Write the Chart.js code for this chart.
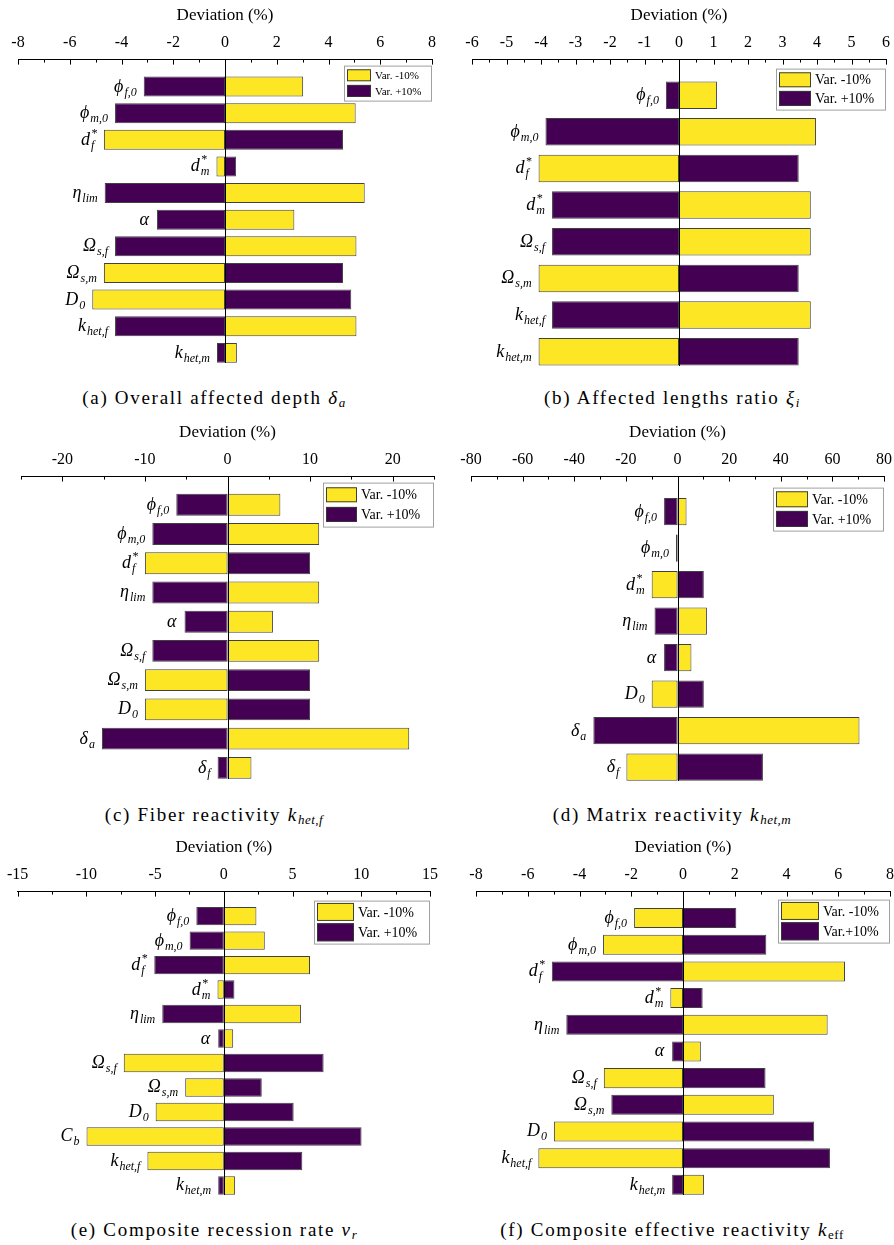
<!DOCTYPE html>
<html>
<head>
<meta charset="utf-8">
<script src="https://cdn.jsdelivr.net/npm/chart.js@4.4.0/dist/chart.umd.min.js"></script>
<style>
body { margin:0; width:894px; height:1245px; overflow:hidden; background:#fff; position:relative; font-family:"Liberation Serif", serif; }
canvas { position:absolute; }
.cap { position:absolute; text-align:center; font-size:19px; letter-spacing:1.7px; line-height:22px; color:#000; white-space:nowrap; }
.cap sub { font-size:13px; vertical-align:-3px; letter-spacing:0.5px; }
</style>
</head>
<body>
<canvas id="ca" width="447" height="365" style="left:0;top:0"></canvas>
<canvas id="cb" width="460" height="368" style="left:447px;top:0"></canvas>
<canvas id="cc" width="447" height="364" style="left:0;top:417px"></canvas>
<canvas id="cd" width="460" height="366" style="left:447px;top:417px"></canvas>
<canvas id="ce" width="447" height="365" style="left:0;top:832px"></canvas>
<canvas id="cf" width="460" height="365" style="left:447px;top:832px"></canvas>

<div class="cap" style="left:0;width:428px;top:387px">(a) Overall affected depth <i>δ<sub>a</sub></i></div>
<div class="cap" style="left:447px;width:450px;top:387px">(b) Affected lengths ratio <i>ξ<sub>i</sub></i></div>
<div class="cap" style="left:0;width:428px;top:804px">(c) Fiber reactivity <i>k<sub>het,f</sub></i></div>
<div class="cap" style="left:447px;width:450px;top:804px">(d) Matrix reactivity <i>k<sub>het,m</sub></i></div>
<div class="cap" style="left:0;width:428px;top:1219px">(e) Composite recession rate <i>v<sub>r</sub></i></div>
<div class="cap" style="left:447px;width:450px;top:1219px">(f) Composite effective reactivity <i>k</i><sub>eff</sub></div>

<script>
// parameter labels: base_sub^sup
var catsA = ['ϕ_f,0','ϕ_m,0','d_f^*','d_m^*','η_lim','α','Ω_s,f','Ω_s,m','D_0','k_het,f','k_het,m'];
var minusA = [3.02, 5.05, -4.68, -0.33, 5.40, 2.68, 5.08, -4.68, -5.13, 5.08, 0.46];
var plusA  = [-3.14, -4.25, 4.56, 0.43, -4.65, -2.63, -4.25, 4.56, 4.88, -4.25, -0.31];
var ticksA = [-8, -6, -4, -2, 0, 2, 4, 6, 8];

var catsB = ['ϕ_f,0','ϕ_m,0','d_f^*','d_m^*','Ω_s,f','Ω_s,m','k_het,f','k_het,m'];
var minusB = [1.10, 3.97, -4.07, 3.82, 3.82, -4.07, 3.82, -4.07];
var plusB  = [-0.38, -3.87, 3.47, -3.68, -3.68, 3.47, -3.68, 3.47];
var ticksB = [-6, -5, -4, -3, -2, -1, 0, 1, 2, 3, 4, 5, 6];

var catsC = ['ϕ_f,0','ϕ_m,0','d_f^*','η_lim','α','Ω_s,f','Ω_s,m','D_0','δ_a','δ_f'];
var minusC = [6.4, 11.1, -10.0, 11.1, 5.5, 11.1, -10.0, -10.0, 22.0, 2.9];
var plusC  = [-6.2, -9.1, 10.0, -9.1, -5.2, -9.1, 10.0, 10.0, -15.2, -1.2];
var ticksC = [-20, -10, 0, 10, 20];

var catsD = ['ϕ_f,0','ϕ_m,0','d_m^*','η_lim','α','D_0','δ_a','δ_f'];
var minusD = [3.5, -0.6, -10.0, 11.4, 5.4, -10.0, 70.5, -19.8];
var plusD  = [-5.2, 0.6, 10.2, -8.9, -5.2, 10.2, -32.6, 33.1];
var ticksD = [-80, -60, -40, -20, 0, 20, 40, 60, 80];

var catsE = ['ϕ_f,0','ϕ_m,0','d_f^*','d_m^*','η_lim','α','Ω_s,f','Ω_s,m','D_0','C_b','k_het,f','k_het,m'];
var minusE = [2.37, 2.98, 6.27, -0.46, 5.61, 0.68, -7.28, -2.81, -4.96, -9.99, -5.56, 0.82];
var plusE  = [-2.0, -2.49, -5.06, 0.77, -4.48, -0.41, 7.26, 2.76, 5.08, 10.02, 5.71, -0.41];
var ticksE = [-15, -10, -5, 0, 5, 10, 15];

var catsF = ['ϕ_f,0','ϕ_m,0','d_f^*','d_m^*','η_lim','α','Ω_s,f','Ω_s,m','D_0','k_het,f','k_het,m'];
var minusF = [-1.89, -3.09, 6.26, -0.49, 5.59, 0.69, -3.06, 3.51, -4.99, -5.59, 0.81];
var plusF  = [2.06, 3.22, -5.07, 0.76, -4.51, -0.42, 3.19, -2.77, 5.07, 5.68, -0.42];
var ticksF = [-8, -6, -4, -2, 0, 2, 4, 6, 8];

var legA = ['Var. -10%', 'Var. +10%'];
var legF = ['Var. -10%', 'Var.+10%'];

var YEL = '#FDE725', PUR = '#440154', EDGE = 'rgba(55,55,55,0.95)';
var FONT = '"Liberation Serif", "DejaVu Serif", serif';

function parseLab(s) {
    var m = s.match(/^([^_^]+)(?:_([^\^]+))?(?:\^(.+))?$/);
    return {b: m[1], sub: m[2] || '', sup: m[3] || ''};
}

// ticks, zero line, parameter labels and legend box
var deco = {
    id: 'deco',
    afterDatasetsDraw: function(chart) {
        var c = chart.config.options.plugins.deco;
        var ctx = chart.ctx, xs = chart.scales.x, ys = chart.scales.y, area = chart.chartArea;
        ctx.save();
        ctx.strokeStyle = '#000';
        ctx.lineWidth = 1;
        // tick marks pointing down
        for (var v = c.min; v <= c.max + 1e-9; v += c.minor) {
            var px = Math.round(xs.getPixelForValue(v)) + 0.5;
            var major = c.ticks.some(function(t) { return Math.abs(t - v) < 1e-9; });
            ctx.beginPath();
            ctx.moveTo(px, area.top);
            ctx.lineTo(px, area.top + (major ? 5 : 3));
            ctx.stroke();
        }
        // zero line
        var x0 = Math.round(xs.getPixelForValue(0)) + 0.5;
        ctx.beginPath();
        ctx.moveTo(x0, area.top);
        ctx.lineTo(x0, area.bottom);
        ctx.stroke();
        // labels next to the bars
        ctx.fillStyle = '#000';
        ctx.textBaseline = 'alphabetic';
        ctx.textAlign = 'left';
        c.cats.forEach(function(s, i) {
            var lab = parseLab(s);
            var lo = Math.min(0, c.minus[i], c.plus[i]);
            var xr = xs.getPixelForValue(lo) - 7;
            var yc = ys.getPixelForValue(i);
            ctx.font = 'italic 18px ' + FONT;
            var wb = ctx.measureText(lab.b).width;
            ctx.font = 'italic 12px ' + FONT;
            var ws = lab.sub ? ctx.measureText(lab.sub).width : 0;
            var wp = lab.sup ? ctx.measureText(lab.sup).width : 0;
            var x = xr - wb - Math.max(ws, wp) - 1;
            ctx.font = 'italic 18px ' + FONT;
            ctx.fillText(lab.b, x, yc + 5);
            ctx.font = 'italic 12px ' + FONT;
            if (lab.sub) ctx.fillText(lab.sub, x + wb + 1, yc + 9);
            if (lab.sup) ctx.fillText(lab.sup, x + wb + 1, yc - 3);
        });
        // legend
        var L = c.legend;
        var bx = area.right - 1 - L.w, by = area.top + L.top;
        ctx.fillStyle = '#fff';
        ctx.fillRect(bx, by, L.w, L.h);
        ctx.strokeStyle = '#a0a0a0';
        ctx.strokeRect(bx + 0.5, by + 0.5, L.w, L.h);
        var cols = [YEL, PUR];
        var gap = (L.h - 2 * L.sh) / 3;
        for (var k = 0; k < 2; k++) {
            var sy = by + gap + k * (L.sh + gap);
            ctx.fillStyle = cols[k];
            ctx.fillRect(bx + 3, sy, L.sw, L.sh);
            ctx.strokeStyle = EDGE;
            ctx.strokeRect(bx + 3.5, sy + 0.5, L.sw - 1, L.sh - 1);
            ctx.fillStyle = '#000';
            ctx.font = L.fs + 'px ' + FONT;
            ctx.textBaseline = 'middle';
            ctx.fillText(c.names[k], bx + L.sw + 7, sy + L.sh / 2 + 1);
        }
        ctx.restore();
    }
};

function tornado(id, cats, minus, plus, ticks, p) {
    var pts = function(arr) { return arr.map(function(v, i) { return {x: v, y: i}; }); };
    var names = p.names || legA;
    var bar = {borderColor: EDGE, borderWidth: 1, borderSkipped: false, grouped: false,
               categoryPercentage: 1, barPercentage: 0.75};
    return new Chart(document.getElementById(id), {
        type: 'bar',
        data: {
            datasets: [
                Object.assign({label: names[0], data: pts(minus), backgroundColor: YEL}, bar),
                Object.assign({label: names[1], data: pts(plus), backgroundColor: PUR}, bar)
            ]
        },
        options: {
            indexAxis: 'y',
            responsive: false,
            animation: false,
            layout: {padding: {top: 3, left: p.left, right: p.right, bottom: 2}},
            plugins: {
                legend: {display: false},
                tooltip: {enabled: false},
                deco: {min: p.min, max: p.max, minor: p.minor, ticks: ticks, cats: cats,
                       minus: minus, plus: plus, legend: p.legend, names: names}
            },
            scales: {
                x: {
                    type: 'linear', position: 'top', min: p.min, max: p.max,
                    afterBuildTicks: function(s) { s.ticks = ticks.map(function(v) { return {value: v}; }); },
                    ticks: {callback: function(v) { return String(v); }, font: {family: FONT, size: 16},
                            color: '#000', padding: 7, autoSkip: false, maxRotation: 0},
                    grid: {display: false, drawTicks: false},
                    border: {display: true, color: '#000', width: 1},
                    title: {display: true, text: 'Deviation (%)', color: '#000',
                            font: {family: FONT, size: 17}, padding: {top: 2, bottom: 1}}
                },
                y: {
                    type: 'linear', reverse: true, offset: false, min: p.ymin, max: p.ymax, display: false,
                    afterBuildTicks: function(s) { s.ticks = cats.map(function(c, i) { return {value: i}; }); }
                }
            }
        },
        plugins: [deco]
    });
}

tornado('ca', catsA, minusA, plusA, ticksA, {min: -8, max: 8, minor: 1, left: 18, right: 15, ymin: -1.01, ymax: 10.38,
    legend: {w: 87, h: 35, top: 6, sw: 24, sh: 12, fs: 11}});
tornado('cb', catsB, minusB, plusB, ticksB, {min: -6, max: 6, minor: 0.5, left: 25, right: 21, ymin: -0.97, ymax: 7.39,
    legend: {w: 109, h: 41, top: 9, sw: 32, sh: 15, fs: 14}});
tornado('cc', catsC, minusC, plusC, ticksC, {min: -25, max: 25, minor: 5, left: 21, right: 13, ymin: -0.96, ymax: 9.38,
    legend: {w: 110, h: 44, top: 6, sw: 31, sh: 15, fs: 14}});
tornado('cd', catsD, minusD, plusD, ticksD, {min: -80, max: 80, minor: 10, left: 24, right: 23, ymin: -0.96, ymax: 7.38,
    legend: {w: 110, h: 43, top: 11, sw: 32, sh: 16, fs: 14}});
tornado('ce', catsE, minusE, plusE, ticksE, {min: -15, max: 15, minor: 2.5, left: 17, right: 17, ymin: -1.0, ymax: 11.39,
    legend: {w: 115, h: 43, top: 9, sw: 37, sh: 18, fs: 14}});
tornado('cf', catsF, minusF, plusF, ticksF, {min: -8, max: 8, minor: 1, left: 29, right: 17, ymin: -0.99, ymax: 10.38,
    legend: {w: 111, h: 43, top: 8, sw: 38, sh: 18, fs: 14}, names: legF});
</script>
</body>
</html>
